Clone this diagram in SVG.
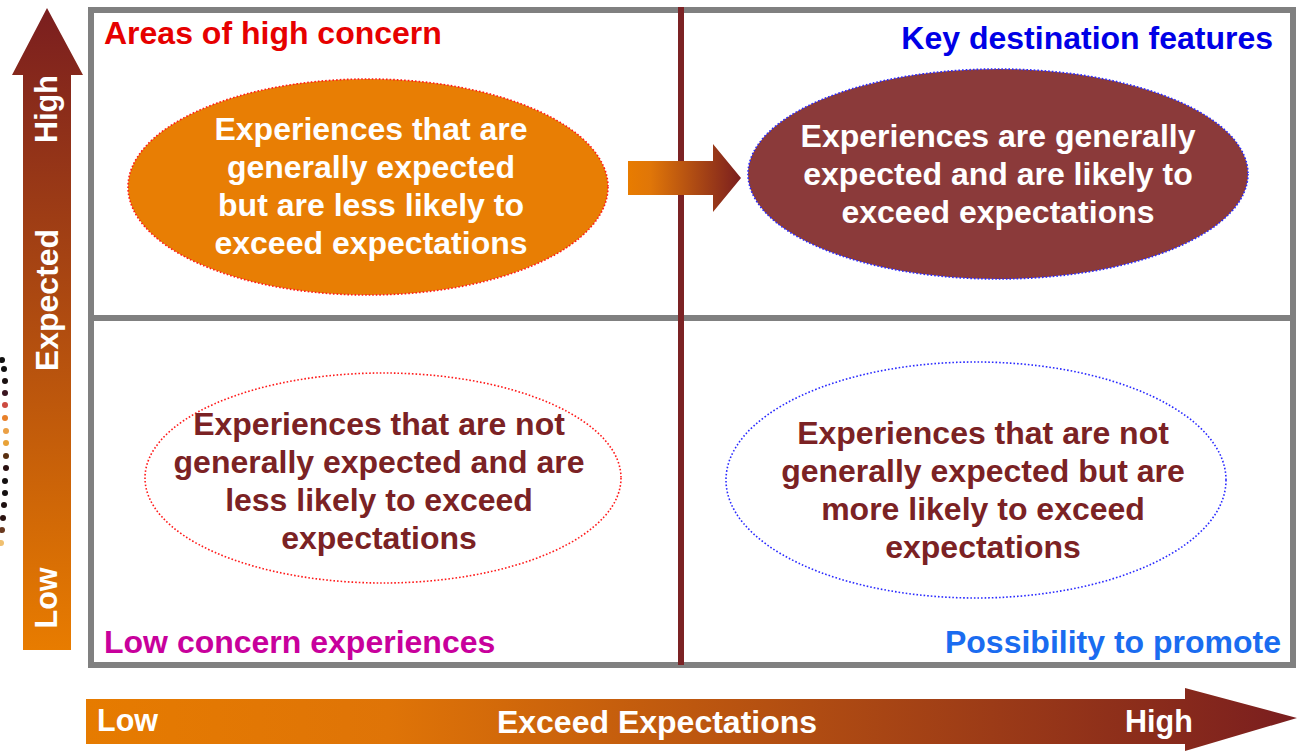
<svg xmlns="http://www.w3.org/2000/svg" width="1297" height="752" viewBox="0 0 1297 752">
  <defs>
    <linearGradient id="gradUp" x1="0" y1="8" x2="0" y2="650" gradientUnits="userSpaceOnUse">
      <stop offset="0" stop-color="#7a1e1f"/>
      <stop offset="1" stop-color="#e87c00"/>
    </linearGradient>
    <linearGradient id="gradRight" x1="86" y1="0" x2="1297" y2="0" gradientUnits="userSpaceOnUse">
      <stop offset="0" stop-color="#e67b00"/>
      <stop offset="0.25" stop-color="#df7407"/>
      <stop offset="1" stop-color="#7a1e1f"/>
    </linearGradient>
    <linearGradient id="gradMid" x1="628" y1="0" x2="741" y2="0" gradientUnits="userSpaceOnUse">
      <stop offset="0" stop-color="#e87c00"/>
      <stop offset="0.2" stop-color="#e07608"/>
      <stop offset="1" stop-color="#7a1e1f"/>
    </linearGradient>
  </defs>
  <style>
    text { font-family: "Liberation Sans", Arial, sans-serif; font-weight: bold; }
    .axis { fill: #ffffff; font-size: 30.5px; }
    .axisMain { font-size: 32px; }
    .title { font-size: 32px; }
    .body { font-size: 32px; text-anchor: middle; }
    .white { fill: #ffffff; }
    .maroon { fill: #7b2224; }
    .dotRed { stroke: #ff1a1a; stroke-width: 1.6; stroke-dasharray: 1.6 2; }
    .dotBlue { stroke: #2a2aff; stroke-width: 1.6; stroke-dasharray: 1.6 2; }
  </style>

  <rect width="1297" height="752" fill="#ffffff"/>

  <!-- beaded strip along the left edge -->
  <g id="beads">
    <circle cx="2" cy="360" r="3" fill="#111"/>
    <circle cx="4" cy="369" r="3" fill="#111"/>
    <circle cx="5" cy="381" r="3" fill="#1a1010"/>
    <circle cx="5" cy="393" r="3" fill="#3a1520"/>
    <circle cx="5" cy="405" r="3" fill="#cc4a40"/>
    <circle cx="5" cy="418" r="3" fill="#e8802a"/>
    <circle cx="6" cy="431" r="3" fill="#eba045"/>
    <circle cx="6" cy="443" r="3" fill="#e8a238"/>
    <circle cx="6" cy="456" r="3" fill="#5a3010"/>
    <circle cx="6" cy="468" r="3" fill="#2a1010"/>
    <circle cx="5" cy="481" r="3" fill="#141010"/>
    <circle cx="5" cy="493" r="3" fill="#141010"/>
    <circle cx="4" cy="505" r="3" fill="#1e1010"/>
    <circle cx="3" cy="518" r="3" fill="#2a1210"/>
    <circle cx="2" cy="530" r="3" fill="#6a3a20"/>
    <circle cx="1" cy="543" r="3" fill="#f0c070"/>
  </g>

  <!-- vertical axis: Expected -->
  <g id="axis-expected">
    <polygon points="47,8 83,75 71,75 71,650 23,650 23,75 12,75" fill="url(#gradUp)"/>
    <text class="axis" transform="translate(57,109) rotate(-90)" text-anchor="middle">High</text>
    <text class="axis axisMain" transform="translate(58,300) rotate(-90)" text-anchor="middle">Expected</text>
    <text class="axis" transform="translate(57,598) rotate(-90)" text-anchor="middle">Low</text>
  </g>

  <!-- horizontal axis: Exceed Expectations -->
  <g id="axis-exceed">
    <polygon points="86,699 1185,699 1185,688 1297,718 1185,751 1185,744 86,744" fill="url(#gradRight)"/>
    <text class="axis" x="97" y="731">Low</text>
    <text class="axis axisMain" x="657" y="733" text-anchor="middle">Exceed Expectations</text>
    <text class="axis" x="1125" y="732">High</text>
  </g>

  <!-- quadrant frame -->
  <g id="frame">
    <rect x="91" y="10" width="1202" height="655" fill="none" stroke="#808080" stroke-width="6"/>
    <line x1="94" y1="318" x2="1290" y2="318" stroke="#808080" stroke-width="6"/>
    <line x1="681" y1="7" x2="681" y2="665" stroke="#7b2224" stroke-width="6"/>
  </g>

  <!-- quadrant headings -->
  <text class="title" x="104" y="44" fill="#e60000">Areas of high concern</text>
  <text class="title" x="1273" y="49" fill="#0000e6" text-anchor="end">Key destination features</text>
  <text class="title" x="104" y="653" fill="#c8009c">Low concern experiences</text>
  <text class="title" x="1281" y="653" fill="#1a6cf0" text-anchor="end">Possibility to promote</text>

  <g id="node-high-concern">
    <ellipse cx="368" cy="187" rx="240" ry="108" fill="#e87e04" class="dotRed"/>
    <text class="body white" x="371" y="140">Experiences that are</text>
    <text class="body white" x="371" y="178">generally expected</text>
    <text class="body white" x="371" y="216">but are less likely to</text>
    <text class="body white" x="371" y="254">exceed expectations</text>
  </g>

  <g id="node-key-features">
    <ellipse cx="998" cy="174" rx="250" ry="105" fill="#8b3a3a" class="dotBlue"/>
    <text class="body white" x="998" y="147">Experiences are generally</text>
    <text class="body white" x="998" y="185">expected and are likely to</text>
    <text class="body white" x="998" y="223">exceed expectations</text>
  </g>

  <g id="node-low-concern">
    <ellipse cx="383" cy="478" rx="238" ry="105" fill="#ffffff" class="dotRed"/>
    <text class="body maroon" x="379" y="435">Experiences that are not</text>
    <text class="body maroon" x="379" y="473">generally expected and are</text>
    <text class="body maroon" x="379" y="511">less likely to exceed</text>
    <text class="body maroon" x="379" y="549">expectations</text>
  </g>

  <g id="node-promote">
    <ellipse cx="976" cy="480" rx="250" ry="118" fill="#ffffff" class="dotBlue"/>
    <text class="body maroon" x="983" y="444">Experiences that are not</text>
    <text class="body maroon" x="983" y="482">generally expected but are</text>
    <text class="body maroon" x="983" y="520">more likely to exceed</text>
    <text class="body maroon" x="983" y="558">expectations</text>
  </g>

  <g id="connectors">
    <polygon points="628,161 713,161 713,144 741,178 713,212 713,195 628,195" fill="url(#gradMid)"/>
  </g>
</svg>
